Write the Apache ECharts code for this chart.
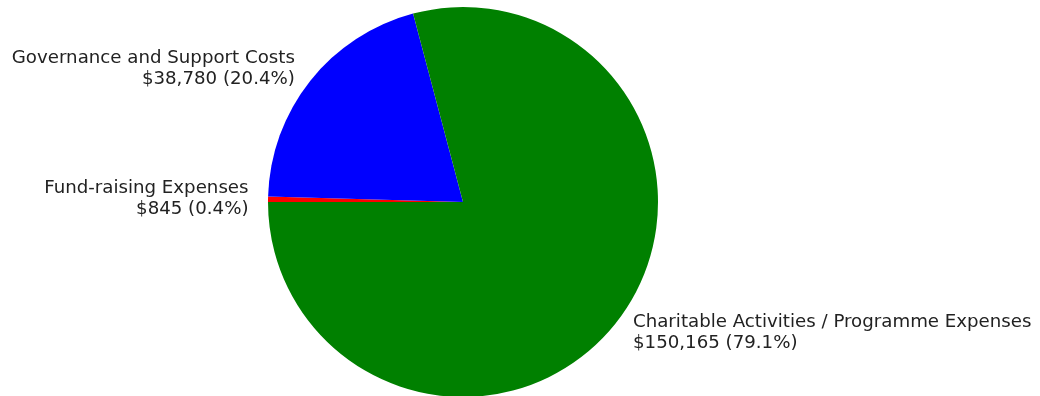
<!DOCTYPE html>
<html>
<head>
<meta charset="utf-8">
<script src="https://cdn.jsdelivr.net/npm/echarts@6/dist/echarts.min.js"></script>
<style>
html,body{margin:0;padding:0;background:#fff;}
#chart{width:1040px;height:396px;}
</style>
</head>
<body>
<div id="chart"></div>
<script>
const categories = ["Fund-raising Expenses", "Governance and Support Costs", "Charitable Activities / Programme Expenses"];
const values = [845, 38780, 150165];
const colors = ["#ff0000", "#0000ff", "#008000"];

const total = values.reduce((a, b) => a + b, 0);
const chart = echarts.init(document.getElementById('chart'), null, {renderer: 'canvas'});
chart.setOption({
  animation: false,
  series: [{
    type: 'pie',
    center: [463, 202],
    radius: [0, 195],
    startAngle: 180,
    clockwise: true,
    avoidLabelOverlap: false,
    emphasis: {disabled: true},
    itemStyle: {borderWidth: 0},
    label: {
      show: true,
      position: 'outside',
      distanceToLabelLine: 0,
      fontFamily: 'DejaVu Sans',
      fontSize: 18.2,
      lineHeight: 21,
      color: '#222',
      formatter: function (p) {
        const pct = (values[p.dataIndex] / total * 100).toFixed(1);
        return p.name + '\n$' + values[p.dataIndex].toLocaleString('en-US') + ' (' + pct + '%)';
      }
    },
    labelLine: {show: false, length: 19.5, length2: 0},
    data: categories.map((c, i) => ({name: c, value: values[i], itemStyle: {color: colors[i]}}))
  }]
});
</script>
</body>
</html>
